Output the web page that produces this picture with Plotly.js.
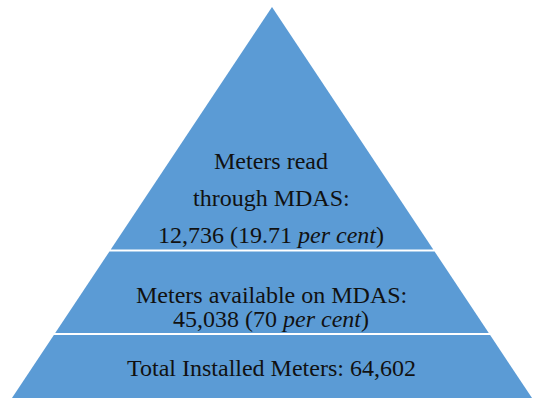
<!DOCTYPE html>
<html>
<head>
<meta charset="utf-8">
<script src="https://cdn.plot.ly/plotly-3.0.1.min.js"></script>
<style>html,body{margin:0;padding:0;background:#fff;}#chart{width:534px;height:398px;}</style>
</head>
<body>
<div id="chart"></div>
<script>
// ---- data ----
const layerNames = ['Total Installed Meters', 'Meters available on MDAS', 'Meters read through MDAS'];
const meterCounts = [64602, 45038, 12736];
const percentShares = [null, '70', '19.71'];

// ---- layout geometry (pixel-like axis units) ----
const W = 534, H = 398;
const apexX = 272, apexY = 7, halfSlope = 0.665;
const bandTops = [335, 251.5, apexY];
const bandBottoms = [H + 2, 333, 249.5];
const fillColor = '#5B9BD5';

function edge(y, side) { return apexX + side * halfSlope * (y - apexY); }
function fmt(n) { return String(n).replace(/\B(?=(\d{3})+(?!\d))/g, ','); }

const traces = [];
for (let i = 0; i < 3; i++) {
  const t = bandTops[i], b = bandBottoms[i];
  let xs, ys;
  if (i === 2) { xs = [apexX, edge(b, 1), edge(b, -1), apexX]; ys = [t, b, b, t]; }
  else { xs = [edge(t, -1), edge(t, 1), edge(b, 1), edge(b, -1), edge(t, -1)]; ys = [t, t, b, b, t]; }
  traces.push({ type: 'scatter', mode: 'lines', x: xs, y: ys, fill: 'toself',
    fillcolor: fillColor, line: { width: 0, color: fillColor }, hoverinfo: 'skip', showlegend: false });
}

// text lines per band
const lines = [
  [{ t: layerNames[0] + ': ' + fmt(meterCounts[0]), y: 368 }],
  [{ t: layerNames[1] + ':', y: 295 },
   { t: fmt(meterCounts[1]) + ' (' + percentShares[1] + ' <i>per cent</i>)', y: 319 }],
  [{ t: 'Meters read', y: 161 },
   { t: 'through MDAS:', y: 198 },
   { t: fmt(meterCounts[2]) + ' (' + percentShares[2] + ' <i>per cent</i>)', y: 235 }]
];
const annotations = [];
lines.forEach(band => band.forEach(l => annotations.push({
  x: 271, y: l.y, xref: 'x', yref: 'y', text: l.t, showarrow: false,
  xanchor: 'center', yanchor: 'middle',
  font: { family: '"Liberation Serif", "Times New Roman", serif', size: 24, color: '#111' }
})));

Plotly.newPlot('chart', traces, {
  width: W, height: H,
  margin: { l: 0, r: 0, t: 0, b: 0 },
  paper_bgcolor: '#fff', plot_bgcolor: '#fff',
  xaxis: { range: [0, W], visible: false, fixedrange: true },
  yaxis: { range: [H, 0], visible: false, fixedrange: true },
  annotations: annotations,
  showlegend: false
}, { staticPlot: true });
</script>
</body>
</html>
